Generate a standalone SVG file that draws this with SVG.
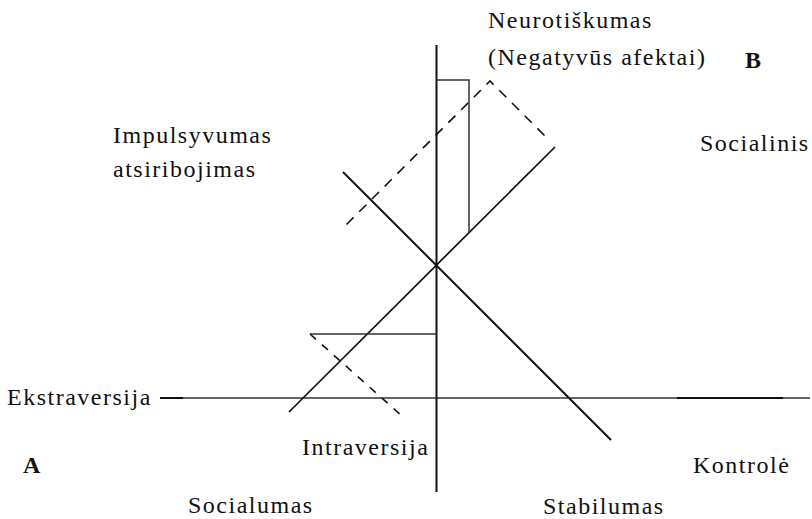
<svg xmlns="http://www.w3.org/2000/svg" width="812" height="519" viewBox="0 0 812 519">
<style>
  .lbl { font-family: "Liberation Serif", "Times New Roman", serif; font-size: 24px; letter-spacing: 1.5px; fill: #111; }
  .bold { font-family: "Liberation Serif", "Times New Roman", serif; font-size: 24px; font-weight: bold; fill: #111; }
  .ax { stroke: #111; stroke-width: 2; fill: none; }
  .thin { stroke: #333; stroke-width: 1.5; fill: none; }
  .diag { stroke: #111; stroke-width: 1.7; fill: none; }
  .dash { stroke: #111; stroke-width: 1.6; fill: none; stroke-dasharray: 10 8; }
  .dash2 { stroke: #111; stroke-width: 1.6; fill: none; stroke-dasharray: 8 8; }
</style>
<rect width="812" height="519" fill="#fff"/>
<g id="connectors">
  <line class="thin" x1="160" y1="398" x2="810" y2="398"/>
  <line class="ax" x1="160" y1="398" x2="183" y2="398"/>
  <line class="ax" x1="677" y1="398" x2="783" y2="398"/>
  <line class="ax" x1="436.5" y1="45" x2="436.5" y2="492"/>
  <line class="diag" x1="289" y1="412" x2="555" y2="147"/>
  <line class="ax" x1="343" y1="172" x2="611" y2="440"/>
  <polyline class="thin" points="436.5,80 469,80 469,232"/>
  <polyline class="dash" points="346.5,224.5 490,81 547,138"/>
  <line class="thin" x1="310" y1="334" x2="436.5" y2="334"/>
  <line class="dash2" x1="310" y1="334" x2="402" y2="416"/>
</g>
<g id="neurotiskumas"><text class="lbl" x="488" y="28">Neurotiškumas</text><text class="lbl" x="488" y="65">(Negatyvūs afektai)</text></g>
<g id="B"><text class="bold" x="745" y="68">B</text></g>
<g id="impulsyvumas"><text class="lbl" x="113" y="143">Impulsyvumas</text><text class="lbl" x="113" y="177">atsiribojimas</text></g>
<g id="socialinis"><text class="lbl" x="700" y="151">Socialinis</text></g>
<g id="ekstraversija"><text class="lbl" x="7" y="405">Ekstraversija</text></g>
<g id="intraversija"><text class="lbl" x="302" y="455">Intraversija</text></g>
<g id="A"><text class="bold" x="23" y="473">A</text></g>
<g id="kontrole"><text class="lbl" x="693" y="473">Kontrolė</text></g>
<g id="socialumas"><text class="lbl" x="188" y="513">Socialumas</text></g>
<g id="stabilumas"><text class="lbl" x="543" y="514">Stabilumas</text></g>
</svg>
